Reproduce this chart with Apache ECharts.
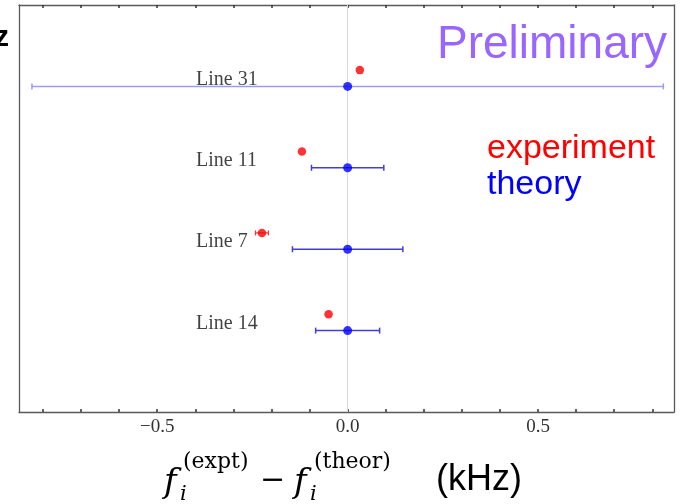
<!DOCTYPE html>
<html><head><meta charset="utf-8">
<script src="https://cdn.jsdelivr.net/npm/echarts@6/dist/echarts.min.js"></script>
<style>html,body{margin:0;padding:0;background:#fff}#c{width:686px;height:504px}</style>
</head><body><div id="c"></div>
<script>
// ---- data ----
const lineLabels = ['Line 31', 'Line 11', 'Line 7', 'Line 14'];
const rowPos = [4, 3, 2, 1];
const theoryValues = [0, 0, 0, 0];
const theoryErrors = [0.829, 0.095, 0.145, 0.084];
const exptValues = [0.032, -0.12, -0.225, -0.05];
const exptErrors = [0, 0, 0.017, 0];
const xTickLabelValues = [-0.5, 0, 0.5];
const xMinorTickValues = [-0.8, -0.7, -0.6, -0.5, -0.4, -0.3, -0.2, -0.1, 0, 0.1, 0.2, 0.3, 0.4, 0.5, 0.6, 0.7, 0.8];
const xMin = -0.863, xMax = 0.857;
const yMin = 0, yMax = 5;
const exptRowOffset = 0.2;
const labelX = -0.398;
const theoryBarColors = ['#9b9bf3', '#4040d8', '#4040d8', '#4040d8'];

const theoryBars = rowPos.map((r, i) => [theoryValues[i] - theoryErrors[i], theoryValues[i] + theoryErrors[i], r]);
const theoryPts = rowPos.map((r, i) => [theoryValues[i], r]);
const exptPts = rowPos.map((r, i) => [exptValues[i], r + exptRowOffset]);
const exptBars = rowPos.map((r, i) => [exptValues[i] - exptErrors[i], exptValues[i] + exptErrors[i], r + exptRowOffset]).filter((d, i) => exptErrors[i] > 0);
const labelPts = rowPos.map((r, i) => [labelX, r, lineLabels[i]]);

function barRenderer(colorFn, cap, width) {
  return function (params, api) {
    const lo = api.coord([api.value(0), api.value(2)]);
    const hi = api.coord([api.value(1), api.value(2)]);
    const st = { stroke: colorFn(params.dataIndex), lineWidth: width };
    return { type: 'group', children: [
      { type: 'line', shape: { x1: lo[0], y1: lo[1], x2: hi[0], y2: hi[1] }, style: st },
      { type: 'line', shape: { x1: lo[0], y1: lo[1] - cap, x2: lo[0], y2: lo[1] + cap }, style: st },
      { type: 'line', shape: { x1: hi[0], y1: hi[1] - cap, x2: hi[0], y2: hi[1] + cap }, style: st }
    ]};
  };
}

const fmt = v => Math.abs(v) < 1e-9 ? '0.0' : (v < 0 ? '\u2212' : '') + Math.abs(v).toFixed(1);
const frameColor = '#5a5a5a';
const tickStyle = { show: true, inside: true, length: 3, customValues: xMinorTickValues, lineStyle: { color: '#333', width: 1.5 } };

const chart = echarts.init(document.getElementById('c'), null, { renderer: 'canvas' });
chart.setOption({
  animation: false,
  backgroundColor: '#fff',
  grid: { left: 19, right: 12, top: 5, bottom: 92, containLabel: false },
  xAxis: [
    { type: 'value', position: 'bottom', min: xMin, max: xMax,
      axisLine: { show: true, onZero: false, lineStyle: { color: frameColor, width: 1.3 } },
      axisTick: tickStyle,
      axisLabel: { show: true, customValues: xTickLabelValues, formatter: fmt, margin: 6,
        fontFamily: 'Liberation Serif', fontSize: 19, color: '#333' },
      splitLine: { show: false } },
    { type: 'value', position: 'top', min: xMin, max: xMax,
      axisLine: { show: true, onZero: false, lineStyle: { color: frameColor, width: 1.3 } },
      axisTick: tickStyle,
      axisLabel: { show: false }, splitLine: { show: false } }
  ],
  yAxis: [
    { type: 'value', position: 'left', min: yMin, max: yMax,
      axisLine: { show: true, onZero: false, lineStyle: { color: frameColor, width: 1.3 } },
      axisTick: { show: false }, axisLabel: { show: false }, splitLine: { show: false } },
    { type: 'value', position: 'right', min: yMin, max: yMax,
      axisLine: { show: true, onZero: false, lineStyle: { color: frameColor, width: 1.3 } },
      axisTick: { show: false }, axisLabel: { show: false }, splitLine: { show: false } }
  ],
  series: [
    { type: 'scatter', data: [], z: 1, silent: true,
      markLine: { silent: true, z: 1, symbol: 'none', label: { show: false },
        lineStyle: { color: '#d9d9d9', width: 1, type: 'solid' },
        data: [{ xAxis: 0 }] } },
    { type: 'custom', name: 'theory err', z: 3, data: theoryBars, encode: { x: [0, 1], y: 2 },
      renderItem: barRenderer(i => theoryBarColors[i], 3, 1.5) },
    { type: 'scatter', name: 'theory', z: 6, data: theoryPts, symbol: 'circle', symbolSize: 9,
      itemStyle: { color: '#0000ff' } },
    { type: 'custom', name: 'expt err', z: 3, data: exptBars, encode: { x: [0, 1], y: 2 },
      renderItem: barRenderer(() => '#ff3030', 2.5, 1.2) },
    { type: 'scatter', name: 'experiment', z: 6, data: exptPts, symbol: 'circle', symbolSize: 8.5,
      itemStyle: { color: '#ff0000' } },
    { type: 'scatter', name: 'labels', z: 7, data: labelPts, symbolSize: 0, silent: true,
      label: { show: true, position: 'right', distance: 0, offset: [0, -7],
        formatter: p => p.data[2], fontFamily: 'Liberation Serif', fontSize: 20, color: '#111' } }
  ],
  graphic: [
    { type: 'text', x: 9, y: 38, style: { text: 'z', fill: '#000', font: 'bold 29px "Liberation Sans"', textAlign: 'right', textVerticalAlign: 'middle' } },
    { type: 'text', x: 437, y: 45.5, style: { text: 'Preliminary', fill: '#9966ff', font: '46px "Liberation Sans"', textAlign: 'left', textVerticalAlign: 'middle' } },
    { type: 'text', x: 487, y: 148.8, style: { text: 'experiment', fill: '#ff0000', font: '34px "Liberation Sans"', textAlign: 'left', textVerticalAlign: 'middle' } },
    { type: 'text', x: 487, y: 185, style: { text: 'theory', fill: '#0000ff', font: '34px "Liberation Sans"', textAlign: 'left', textVerticalAlign: 'middle' } },
    { type: 'text', x: 164, y: 483, style: { text: 'f', fill: '#000', font: 'italic 34px "DejaVu Serif"', textAlign: 'left', textVerticalAlign: 'middle' } },
    { type: 'text', x: 180, y: 495, style: { text: 'i', fill: '#000', font: 'italic 21px "DejaVu Serif"', textAlign: 'left', textVerticalAlign: 'middle' } },
    { type: 'text', x: 183, y: 462, style: { text: '(expt)', fill: '#000', font: '22px "DejaVu Serif"', textAlign: 'left', textVerticalAlign: 'middle' } },
    { type: 'text', x: 260, y: 481, style: { text: '\u2212', fill: '#000', font: '30px "DejaVu Serif"', textAlign: 'left', textVerticalAlign: 'middle' } },
    { type: 'text', x: 294, y: 483, style: { text: 'f', fill: '#000', font: 'italic 34px "DejaVu Serif"', textAlign: 'left', textVerticalAlign: 'middle' } },
    { type: 'text', x: 310, y: 495, style: { text: 'i', fill: '#000', font: 'italic 21px "DejaVu Serif"', textAlign: 'left', textVerticalAlign: 'middle' } },
    { type: 'text', x: 314, y: 462, style: { text: '(theor)', fill: '#000', font: '22px "DejaVu Serif"', textAlign: 'left', textVerticalAlign: 'middle' } },
    { type: 'text', x: 436, y: 480, style: { text: '(kHz)', fill: '#000', font: '36px "Liberation Sans"', textAlign: 'left', textVerticalAlign: 'middle' } }
  ]
});
</script>
</body></html>
